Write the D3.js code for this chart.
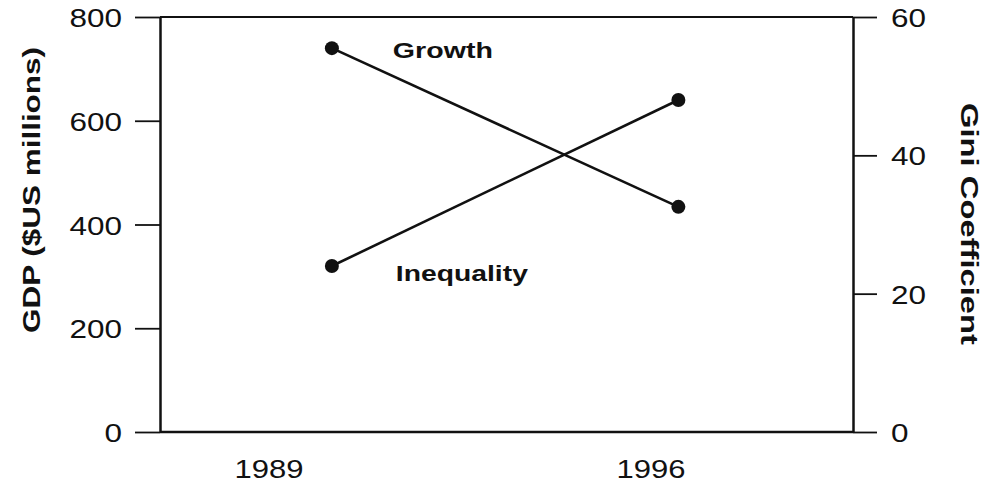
<!DOCTYPE html>
<html>
<head>
<meta charset="utf-8">
<script src="https://cdn.jsdelivr.net/npm/d3@7"></script>
<style>
  body { margin: 0; background: #fff; }
  svg text { font-family: "Liberation Sans", Arial, sans-serif; fill: #111; }
</style>
</head>
<body>
<div id="chart"></div>
<script>
// values
var yearTicks = [1989, 1996];
var obsYears = [1990.15, 1996.5];
var gdpTicks = [0, 200, 400, 600, 800];
var giniTicks = [0, 20, 40, 60];
var growth = [740, 434];     // GDP, $US millions (left axis)
var inequality = [24, 48];   // Gini coefficient (right axis)

var width = 992, height = 485;
var plotLeft = 160, plotRight = 853, plotTop = 17, plotBottom = 432;

var svg = d3.select("#chart").append("svg")
    .attr("width", width)
    .attr("height", height);

var x = d3.scaleLinear().domain([1987, 1999.7]).range([plotLeft, plotRight]);
var yGdp = d3.scaleLinear().domain([0, 800]).range([plotBottom, plotTop]);
var yGini = d3.scaleLinear().domain([0, 60]).range([plotBottom, plotTop]);

// top and bottom of the frame
svg.append("line")
    .attr("x1", plotLeft).attr("x2", plotRight)
    .attr("y1", plotTop).attr("y2", plotTop)
    .attr("stroke", "#111").attr("stroke-width", 2);
svg.append("line")
    .attr("x1", plotLeft).attr("x2", plotRight)
    .attr("y1", plotBottom).attr("y2", plotBottom)
    .attr("stroke", "#111").attr("stroke-width", 2.5);

// left axis
var gl = svg.append("g")
    .attr("transform", "translate(" + plotLeft + ",0)")
    .call(d3.axisLeft(yGdp).tickValues(gdpTicks).tickSize(25).tickSizeOuter(0).tickPadding(13));
// right axis
var gr = svg.append("g")
    .attr("transform", "translate(" + plotRight + ",0)")
    .call(d3.axisRight(yGini).tickValues(giniTicks).tickSize(24).tickSizeOuter(0).tickPadding(14));

[gl, gr].forEach(function(g) {
    g.select(".domain").attr("stroke", "#111").attr("stroke-width", 2.5);
    g.selectAll(".tick line").attr("stroke", "#111").attr("stroke-width", 1.8);
    g.selectAll(".tick text")
        .attr("font-size", 25)
        .attr("font-family", null)
        .attr("dy", "0.38em")
        .attr("textLength", function(d) { return String(d).length * 17.5; })
        .attr("lengthAdjust", "spacingAndGlyphs");
});

// year labels, no tick marks
svg.append("g").selectAll("text")
    .data(yearTicks)
    .enter().append("text")
    .attr("x", function(d) { return x(d); })
    .attr("y", 478)
    .attr("text-anchor", "middle")
    .attr("font-size", 26)
    .attr("textLength", 69)
    .attr("lengthAdjust", "spacingAndGlyphs")
    .text(function(d) { return d; });

// axis titles
svg.append("text")
    .attr("transform", "translate(40,190) rotate(-90)")
    .attr("text-anchor", "middle")
    .attr("font-size", 24)
    .attr("font-weight", "bold")
    .attr("textLength", 286)
    .attr("lengthAdjust", "spacingAndGlyphs")
    .text("GDP ($US millions)");

svg.append("text")
    .attr("transform", "translate(961,224) rotate(90)")
    .attr("text-anchor", "middle")
    .attr("font-size", 24)
    .attr("font-weight", "bold")
    .attr("textLength", 242)
    .attr("lengthAdjust", "spacingAndGlyphs")
    .text("Gini Coefficient");

// series
var series = [
    { name: "Growth", values: growth, y: yGdp, lx: 61, ly: 10, len: 100 },
    { name: "Inequality", values: inequality, y: yGini, lx: 64, ly: 15, len: 132 }
];

series.forEach(function(s) {
    var pts = s.values.map(function(v, i) { return [x(obsYears[i]), s.y(v)]; });

    svg.append("path")
        .attr("d", d3.line()(pts))
        .attr("fill", "none")
        .attr("stroke", "#111")
        .attr("stroke-width", 2.6);

    svg.selectAll(null)
        .data(pts)
        .enter().append("circle")
        .attr("cx", function(d) { return d[0]; })
        .attr("cy", function(d) { return d[1]; })
        .attr("r", 7)
        .attr("fill", "#111");

    svg.append("text")
        .attr("x", pts[0][0] + s.lx)
        .attr("y", pts[0][1] + s.ly)
        .attr("font-size", 22)
        .attr("font-weight", "bold")
        .attr("textLength", s.len)
        .attr("lengthAdjust", "spacingAndGlyphs")
        .text(s.name);
});
</script>
</body>
</html>
